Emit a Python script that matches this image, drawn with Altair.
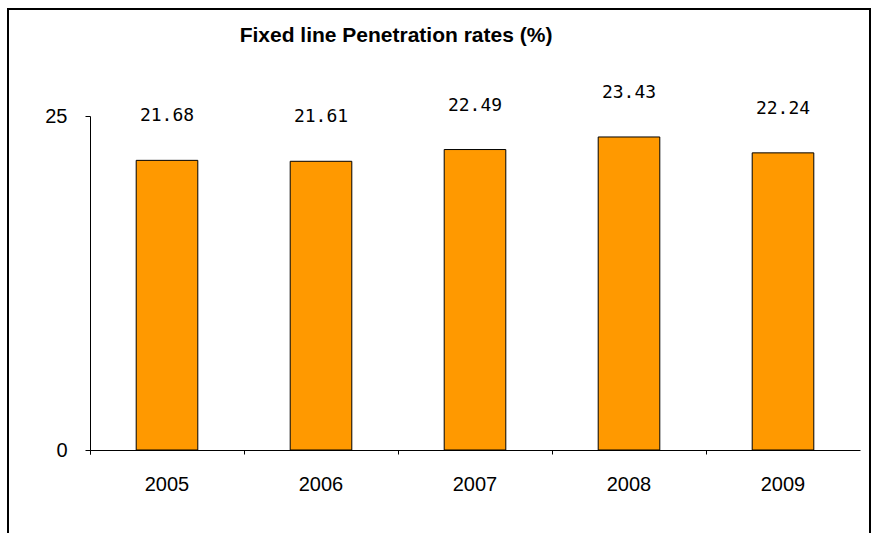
import altair as alt
import pandas as pd

years = ["2005", "2006", "2007", "2008", "2009"]
rates = [21.68, 21.61, 22.49, 23.43, 22.24]
chart_title = "Fixed line Penetration rates (%)"

df = pd.DataFrame({"year": years, "rate": rates})

W, H = 770, 334

x_enc = alt.X(
    "year:N",
    sort=years,
    scale=alt.Scale(paddingInner=0, paddingOuter=0),
    axis=alt.Axis(
        title=None, labelAngle=0, bandPosition=0, tickExtra=True,
        domainColor="black", tickColor="black", tickSize=4,
        labelFont="Liberation Sans", labelFontSize=20, labelColor="black",
        labelPadding=20, grid=False, gridOpacity=0, gridColor="transparent",
    ),
)
y_enc = alt.Y(
    "rate:Q",
    scale=alt.Scale(domain=[0, 25], nice=False),
    axis=alt.Axis(
        title=None, values=[0, 25], grid=False, gridOpacity=0,
        gridColor="transparent",
        domainColor="black", tickColor="black", tickSize=5,
        labelFont="Liberation Sans", labelFontSize=20, labelColor="black",
        labelPadding=18,
    ),
)

bars = alt.Chart(df).mark_bar(
    width=alt.RelativeBandSize(0.4), color="#FF9900", stroke="black", strokeWidth=1
).encode(x=x_enc, y=y_enc)

labels = alt.Chart(df).mark_text(
    font="DejaVu Sans Mono", fontSize=18, color="black", baseline="bottom", dy=-35
).encode(x=x_enc, y=y_enc, text=alt.Text("rate:Q", format=".2f"))

# heading, placed left of the plot centre
heading = alt.Chart(pd.DataFrame({"t": [chart_title]})).mark_text(
    font="Liberation Sans", fontSize=21, fontWeight="bold", color="black",
    align="center", baseline="middle",
).encode(x=alt.value(306), y=alt.value(-80), text="t:N")

# outer frame around the whole figure
frame = alt.Chart(pd.DataFrame({"k": [0]})).mark_rect(
    fill=None, stroke="black", strokeWidth=2, clip=False
).encode(
    x=alt.value(-82), x2=alt.value(780), y=alt.value(-107), y2=alt.value(520)
)

chart = alt.layer(bars, labels, heading, frame).properties(
    width=W,
    height=H,
    autosize=alt.AutoSizeParams(type="none"),
    padding={"left": 90, "top": 116, "right": 13, "bottom": 83},
).configure(
    background="white",
    view=alt.ViewConfig(stroke="transparent", strokeWidth=0),
    axis=alt.AxisConfig(grid=False, gridOpacity=0, gridColor="transparent"),
)

chart.save("out.html", embed_options={"renderer": "svg", "actions": False})
